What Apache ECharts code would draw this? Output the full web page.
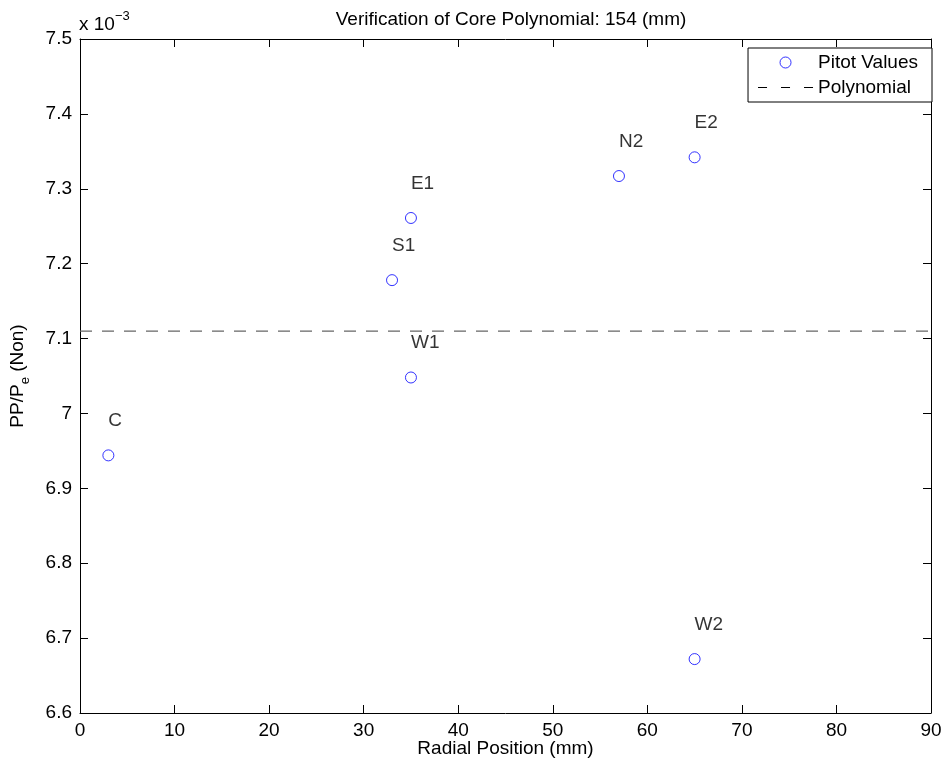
<!DOCTYPE html>
<html><head><meta charset="utf-8">
<script src="https://cdn.jsdelivr.net/npm/echarts@6/dist/echarts.min.js"></script>
<style>html,body{margin:0;padding:0;background:#fff}#c{width:949px;height:767px}</style>
</head><body><div id="c"></div>
<script>
const pointLabels = ['C','S1','E1','W1','N2','E2','W2'];
const radialPos = [3, 33, 35, 35, 57, 65, 65];
const pitotValues = [6.944, 7.178, 7.261, 7.048, 7.317, 7.342, 6.672];
const polyX = [0, 90];
const polyY = [7.11, 7.11];
const xTicks = [0,10,20,30,40,50,60,70,80,90];
const yTicks = [6.6,6.7,6.8,6.9,7.0,7.1,7.2,7.3,7.4,7.5];

const font = 'Liberation Sans, Arial, Helvetica, sans-serif';
const FS = 19;
const chart = echarts.init(document.getElementById('c'));
const axisCommon = {
  axisLine:{show:true,onZero:false,lineStyle:{color:'#000',width:1}},
  axisTick:{show:true,inside:true,length:8,lineStyle:{color:'#000'}},
  splitLine:{show:false}
};
chart.setOption({
  animation:false,
  backgroundColor:'#fff',
  textStyle:{fontFamily:font},
  title:{text:'Verification of Core Polynomial: 154 (mm)',left:506,textAlign:'center',top:5,
    textStyle:{fontFamily:font,fontSize:FS,fontWeight:'normal',color:'#000'}},
  grid:{left:80,right:18,top:39,bottom:54,containLabel:false,outerBoundsMode:'none'},
  legend:{
    right:17,top:48,orient:'vertical',
    backgroundColor:'#fff',borderColor:'#000',borderWidth:1,borderRadius:0,
    padding:[5,14,5,10],itemGap:6,itemWidth:55,itemHeight:11,
    textStyle:{fontFamily:font,fontSize:FS,color:'#000'},
    data:[
      {name:'Pitot Values',icon:'circle',itemStyle:{color:'#fff',borderColor:'#0000ff',borderWidth:1}},
      {name:'Polynomial',icon:'path://M0,0h9v1h-9z M23,0h9v1h-9z M46,0h9v1h-9z',itemStyle:{color:'#000',borderWidth:0}}
    ]
  },
  graphic:[{type:'text',left:79,top:10,style:{
    text:'{a|x 10}{b|−3}',
    rich:{a:{fontFamily:font,fontSize:FS,fill:'#000',verticalAlign:'bottom',lineHeight:24},
          b:{fontFamily:font,fontSize:13,fill:'#000',verticalAlign:'top',lineHeight:24}}
  }}],
  xAxis:[
    Object.assign({type:'value',min:0,max:90,interval:10,position:'bottom',
      name:'Radial Position (mm)',nameLocation:'middle',nameGap:26,nameMoveOverlap:false,
      nameTextStyle:{fontFamily:font,fontSize:FS,color:'#000'},
      axisLabel:{color:'#000',fontSize:FS,fontFamily:font,margin:8,
        formatter:v=>xTicks.includes(v)?String(v):''}},axisCommon),
    Object.assign({type:'value',min:0,max:90,interval:10,position:'top',axisLabel:{show:false}},axisCommon)
  ],
  yAxis:[
    Object.assign({type:'value',min:6.6,max:7.5,interval:0.1,position:'left',
      name:'{a|PP/P}{b|e}{a| (Non)}',nameLocation:'middle',nameGap:50,nameRotate:90,
      nameTextStyle:{rich:{a:{fontFamily:font,fontSize:FS,color:'#000',lineHeight:24,verticalAlign:'middle'},
        b:{fontFamily:font,fontSize:13,color:'#000',padding:[14,0,0,0],lineHeight:24}}},
      axisLabel:{color:'#000',fontSize:FS,fontFamily:font,margin:8,
        formatter:v=>{const r=Number(v.toFixed(1));return yTicks.some(t=>Math.abs(t-r)<1e-9)?String(r):'';}}},axisCommon),
    Object.assign({type:'value',min:6.6,max:7.5,interval:0.1,position:'right',axisLabel:{show:false}},axisCommon)
  ],
  series:[
    {name:'Pitot Values',type:'scatter',symbol:'circle',symbolSize:11,
      itemStyle:{color:'#fff',borderColor:'#0000ff',borderWidth:1},
      data:radialPos.map((x,i)=>({value:[x,pitotValues[i]],name:pointLabels[i]})),
      label:{show:true,position:'top',align:'left',distance:19,formatter:p=>p.name,
        color:'#000',fontSize:FS,fontFamily:font},
      z:3},
    {name:'Polynomial',type:'line',symbol:'none',showSymbol:false,
      lineStyle:{color:'#666',width:1.2,type:[12,10]},itemStyle:{color:'#666'},
      data:polyX.map((x,i)=>[x,polyY[i]]),z:2}
  ]
});
</script></body></html>
